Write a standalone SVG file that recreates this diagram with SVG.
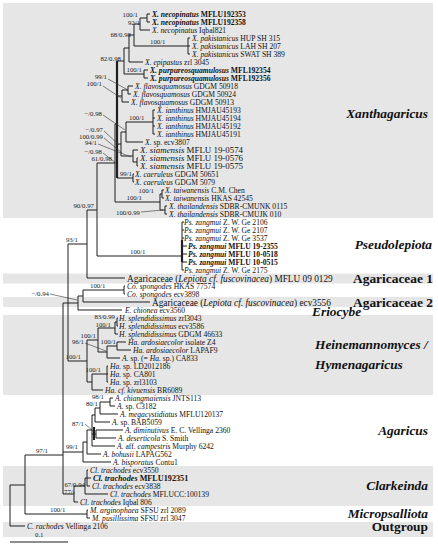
<svg xmlns="http://www.w3.org/2000/svg" width="438" height="550" viewBox="0 0 438 550">
<style>
.band{fill:#e6e6e6}
.l{fill:none;stroke:#1f1f1f;stroke-width:1}
.th{fill:none;stroke:#1f1f1f;stroke-width:2.2}
.ld{fill:none;stroke:#333;stroke-width:0.6}
text{font-family:"Liberation Serif","Times New Roman",serif;fill:#111}
.t{font-size:7.6px}
.tl{font-size:9.3px}
.ts{font-size:8.9px}
.tb{font-size:8.2px;font-weight:bold}
.i{font-style:italic}
.b{font-weight:bold}
.s{font-size:6.8px;fill:#222}
.e{text-anchor:end}
.g{font-size:13.4px;font-weight:bold;font-style:italic}
.gr{font-size:13.4px;font-weight:bold}
</style>
<rect width="438" height="550" fill="#fff"/>
<g id="bands">
<rect class="band" x="3" y="3" width="430" height="215"/>
<rect class="band" x="3" y="273.5" width="430" height="10"/>
<rect class="band" x="3" y="297" width="430" height="10"/>
<rect class="band" x="3" y="315" width="430" height="80"/>
<rect class="band" x="3" y="466" width="430" height="40"/>
<rect class="band" x="3" y="522" width="430" height="15"/>
</g>
<g id="branches">
<path class="l" d="M147 14V22M147 14H150M147 22H150M140 18H147M140 18V30M140 30H150M134 24H140M134 24V46M134 46H188M188 38V54M188 38H190M188 46H190M188 54H190M129 35H134M129 35V62M129 62H143M124 48H129M144 70V78M144 70H148M144 78H148M124 74H144M124 48V74M117 61H124M128 86V94M128 86H133M128 94H131M122 90H128M122 90V102M122 102H129M117 96H122M153 110V134M153 110H155M153 118H155M153 126H155M153 134H155M126 122H153M126 122V142M126 142H143M121 132H126M137 158V166M137 158H138M137 166H138M133 162H137M133 150V162M133 150H138M121 156H133M121 132V156M117 144H121M133 174V182M133 174H134M133 182H134M117 178H133M115 124V202M115 124H117M115 202H160M160 194V210M162 190V198M162 190H164M162 198H164M160 194H162M165 206V214M165 206H167M165 214H167M160 210H165M97 163H115"/>
<path class="th" d="M117 61V178"/>
<path class="l" d="M97 163V256M97 256H182M182 222V270M182 222H184M182 230H184M182 238H184M182 246H187M182 254H187M182 262H187M182 270H184M87 210H97M87 210V278M87 278H125M68 244H87M68 244V361M68 303H78M78 296V310M78 310H122M78 296H83M83 290V302M83 302H150M83 290H124M124 286V294M124 286H125M124 294H125M63 303H68M63 303V494"/>
<path class="th" d="M182 240V262"/>
<path class="l" d="M117 318V326M117 318H118M117 326H118M115 322H117M115 322V334M115 334H118M98 328H115M117 342V350M117 342H126M117 350H131M107 346H117M107 358H120M107 346V358M98 352H107M98 328V352M87 340H98M107 366V382M107 366H108M107 374H108M107 382H108M92 374H107M92 390H103M92 374V390M87 382H92M87 340V382M68 361H87"/>
<path class="l" d="M110 398V406M110 398H113M110 406H115M100 402H110M100 402V414M100 414H118M95 408H100M95 408V422M95 422H110M92 415H95M96 430V438M96 430H123M96 438H116M92 434H96M92 415V446M92 446H115M87 430H92M87 430V454M87 454H101M83 442H87M83 442V462M83 462H111M63 452H83"/>
<path class="th" d="M94 427V440"/>
<path class="l" d="M87 470V486M87 470H88M87 478H91M87 486H90M85 478H87M85 478V494M85 494H108M74 486H85M74 486V502M74 502H78M63 494H74M25 455H63M25 455V514M25 514H87M87 510V518M87 510H88M87 518H90M10 485H25M10 485V526M10 526H25"/>
<path class="ld" d="M108 79L128 90M103 86L121 98M103 115L125 130M104 131L119 145M104 138L122 153M98 144L131 157M103 153L116 163M141 212L163 210M50 294L77 300M85 343L106 351M85 424L93 431"/>
<path class="l" d="M10 542H68"/>
</g>
<g id="supports">
<text class="s e" x="138" y="17">100/1</text>
<text class="s e" x="140" y="25">92/1</text>
<text class="s e" x="131" y="37">68/0.98</text>
<text class="s" x="150" y="44">100/1</text>
<text class="s e" x="121" y="61">82/0.98</text>
<text class="s e" x="142" y="72">100/1</text>
<text class="s e" x="107" y="79">99/1</text>
<text class="s e" x="102" y="86">100/1</text>
<text class="s e" x="102" y="116">−/0.98</text>
<text class="s" x="129" y="120">100/1</text>
<text class="s e" x="103" y="132">−/0.97</text>
<text class="s e" x="103" y="139">100/0.99</text>
<text class="s e" x="97" y="145">94/1</text>
<text class="s e" x="102" y="154">−/0.98</text>
<text class="s e" x="112" y="161">61/0.98</text>
<text class="s e" x="132" y="176">99/1</text>
<text class="s e" x="154" y="193">100/1</text>
<text class="s e" x="142" y="200">100/1</text>
<text class="s e" x="140" y="215">100/0.99</text>
<text class="s e" x="94" y="208">90/0.97</text>
<text class="s e" x="78" y="242">93/1</text>
<text class="s" x="130" y="254">100/1</text>
<text class="s e" x="49" y="296">−/0.94</text>
<text class="s" x="90" y="288">100/1</text>
<text class="s e" x="115" y="319">83/0.99</text>
<text class="s e" x="111" y="327">100/1</text>
<text class="s e" x="96" y="338">100/1</text>
<text class="s e" x="84" y="344">96/1</text>
<text class="s e" x="116" y="344">100/1</text>
<text class="s e" x="81" y="359">100/1</text>
<text class="s e" x="101" y="372">100/1</text>
<text class="s e" x="104" y="399">98/1</text>
<text class="s e" x="98" y="406">80/1</text>
<text class="s e" x="84" y="426">87/1</text>
<text class="s e" x="78" y="449">99/1</text>
<text class="s e" x="48" y="453">97/1</text>
<text class="s e" x="85" y="487">67/0.94</text>
<text class="s e" x="75" y="494">77/-</text>
<text class="s" x="50" y="512">100/1</text>
<text class="s" x="35" y="537">0.1</text>
</g>
<g id="xanthagaricus-leaves">
<text class="t b" x="152" y="17"><tspan class="i">X. necopinatus</tspan> MFLU192353</text>
<text class="t b" x="152" y="25"><tspan class="i">X. necopinatus</tspan> MFLU192358</text>
<text class="t" x="152" y="33"><tspan class="i">X. necopinatus</tspan> Iqbal821</text>
<text class="t" x="192" y="41"><tspan class="i">X. pakistanicus</tspan> HUP SH 315</text>
<text class="t" x="192" y="49"><tspan class="i">X. pakistanicus</tspan> LAH SH 207</text>
<text class="t" x="192" y="57"><tspan class="i">X. pakistanicus</tspan> SWAT SH 389</text>
<text class="t" x="145" y="65"><tspan class="i">X. epipastus</tspan> zrl 3045</text>
<text class="t b" x="150" y="73"><tspan class="i">X. purpureosquamulosus</tspan> MFL192354</text>
<text class="t b" x="150" y="81"><tspan class="i">X. purpureosquamulosus</tspan> MFL192356</text>
<text class="t" x="135" y="89"><tspan class="i">X. flavosquamosus</tspan> GDGM 50918</text>
<text class="t" x="133" y="97"><tspan class="i">X. flavosquamosus</tspan> GDGM 50924</text>
<text class="t" x="131" y="105"><tspan class="i">X. flavosquamosus</tspan> GDGM 50913</text>
<text class="t" x="157" y="113"><tspan class="i">X. ianthinus</tspan> HMJAU45193</text>
<text class="t" x="157" y="121"><tspan class="i">X. ianthinus</tspan> HMJAU45194</text>
<text class="t" x="157" y="129"><tspan class="i">X. ianthinus</tspan> HMJAU45192</text>
<text class="t" x="157" y="137"><tspan class="i">X. ianthinus</tspan> HMJAU45191</text>
<text class="t" x="145" y="144.5"><tspan class="i">X.</tspan> sp. ecv3807</text>
<text class="ts" x="140" y="153.2"><tspan class="i">X. siamensis</tspan> MFLU 19-0574</text>
<text class="ts" x="140" y="161.2"><tspan class="i">X. siamensis</tspan> MFLU 19-0576</text>
<text class="ts" x="140" y="169.2"><tspan class="i">X. siamensis</tspan> MFLU 19-0575</text>
<text class="t" x="135" y="177"><tspan class="i">X. caeruleus</tspan> GDGM 50651</text>
<text class="t" x="135" y="185"><tspan class="i">X. caeruleus</tspan> GDGM 5079</text>
<text class="t" x="165" y="193"><tspan class="i">X. taiwanensis</tspan> C.M. Chen</text>
<text class="t" x="165" y="201"><tspan class="i">X. taiwanensis</tspan> HKAS 42545</text>
<text class="t" x="169" y="209"><tspan class="i">X. thailandensis</tspan> SDBR-CMUNK 0115</text>
<text class="t" x="169" y="217"><tspan class="i">X. thailandensis</tspan> SDBR-CMUJK 010</text>
</g>
<g id="pseudolepiota-leaves">
<text class="t" x="184" y="225"><tspan class="i">Ps. zangmui</tspan> Z. W. Ge 2106</text>
<text class="t" x="184" y="233"><tspan class="i">Ps. zangmui</tspan> Z. W. Ge 2107</text>
<text class="t" x="184" y="241"><tspan class="i">Ps. zangmui</tspan> Z. W. Ge 3537</text>
<text class="t b" x="188" y="249"><tspan class="i">Ps. zangmui</tspan> MFLU 19-2355</text>
<text class="t b" x="188" y="257"><tspan class="i">Ps. zangmui</tspan> MFLU 10-0518</text>
<text class="t b" x="188" y="265"><tspan class="i">Ps. zangmui</tspan> MFLU 10-0515</text>
<text class="t" x="184" y="272.5"><tspan class="i">Ps. zangmui</tspan> Z. W. Ge 2175</text>
</g>
<g id="agaricaceae1-leaf"><text class="tl" x="127" y="281.8">Agaricaceae (<tspan class="i">Lepiota cf. fuscovinacea</tspan>) MFLU 09 0129</text></g>
<g id="cospongodes-leaves">
<text class="t" x="127" y="289"><tspan class="i">Co. spongodes</tspan> HKAS 77574</text>
<text class="t" x="127" y="296.5"><tspan class="i">Co. spongodes</tspan> ecv3898</text>
</g>
<g id="agaricaceae2-leaf"><text class="tl" x="152" y="305.5">Agaricaceae (<tspan class="i">Lepiota cf. fuscovinacea</tspan>) ecv3556</text></g>
<g id="eriocybe-leaf"><text class="t" x="125" y="313"><tspan class="i">E. chionea</tspan> ecv3560</text></g>
<g id="heinemannomyces-leaves">
<text class="t" x="119" y="321"><tspan class="i">H. splendidissimus</tspan> zrl3043</text>
<text class="t" x="119" y="329"><tspan class="i">H. splendidissimus</tspan> ecv3586</text>
<text class="t" x="119" y="337"><tspan class="i">H. splendidissimus</tspan> GDGM 46633</text>
<text class="t" x="128" y="345"><tspan class="i">Ha. ardosiaecolor</tspan> isolate Z4</text>
<text class="t" x="133" y="353"><tspan class="i">Ha. ardosiaecolor</tspan> LAPAF9</text>
<text class="t" x="122" y="361"><tspan class="i">A.</tspan> sp. (= <tspan class="i">Ha.</tspan> sp.) CA833</text>
<text class="t" x="110" y="369"><tspan class="i">Ha.</tspan> sp. LD2012186</text>
<text class="t" x="110" y="377"><tspan class="i">Ha.</tspan> sp. CA801</text>
<text class="t" x="110" y="385"><tspan class="i">Ha.</tspan> sp. zrl3103</text>
<text class="t" x="105" y="393"><tspan class="i">Ha. cf. kivuensis</tspan> BR6089</text>
</g>
<g id="agaricus-leaves">
<text class="t" x="115" y="401"><tspan class="i">A. chiangmaiensis</tspan> JNTS113</text>
<text class="t" x="117" y="409"><tspan class="i">A.</tspan> sp. C3182</text>
<text class="t" x="120" y="417"><tspan class="i">A. megacystidiatus</tspan> MFLU120137</text>
<text class="t" x="112" y="425"><tspan class="i">A.</tspan> sp. BAB5059</text>
<text class="t" x="125" y="433"><tspan class="i">A. diminutivus</tspan> E. C. Vellinga 2360</text>
<text class="t" x="118" y="441"><tspan class="i">A. deserticola</tspan> S. Smith</text>
<text class="t" x="117" y="449"><tspan class="i">A.</tspan> aff. <tspan class="i">campestris</tspan> Murphy 6242</text>
<text class="t" x="103" y="457"><tspan class="i">A. bohusii</tspan> LAPAG562</text>
<text class="t" x="113" y="465"><tspan class="i">A. bisporatus</tspan> Contu1</text>
</g>
<g id="clarkeinda-leaves">
<text class="t" x="90" y="473"><tspan class="i">Cl. trachodes</tspan> ecv3550</text>
<text class="tb" x="93" y="481"><tspan class="i">Cl. trachodes</tspan> MFLU192351</text>
<text class="t" x="92" y="489"><tspan class="i">Cl. trachodes</tspan> ecv3838</text>
<text class="t" x="110" y="497"><tspan class="i">Cl. trachodes</tspan> MFLUCC:100139</text>
<text class="t" x="80" y="505"><tspan class="i">Cl. trachodes</tspan> Iqbal 806</text>
</g>
<g id="micropsalliota-leaves">
<text class="t" x="90" y="513"><tspan class="i">M. arginophaea</tspan> SFSU zrl 2089</text>
<text class="t" x="92" y="521"><tspan class="i">M. pusillissima</tspan> SFSU zrl 3047</text>
</g>
<g id="outgroup-leaf"><text class="t" x="27" y="529"><tspan class="i">C. rachodes</tspan> Vellinga 2106</text></g>
<g id="clade-labels">
<text class="g e" x="428" y="118">Xanthagaricus</text>
<text class="g e" x="432" y="249">Pseudolepiota</text>
<text class="gr e" x="433" y="283">Agaricaceae 1</text>
<text class="gr e" x="433" y="307">Agaricaceae 2</text>
<text class="g" x="312" y="316">Eriocybe</text>
<text class="g" x="315" y="349">Heinemannomyces /</text>
<text class="g" x="315" y="369">Hymenagaricus</text>
<text class="g e" x="428" y="435">Agaricus</text>
<text class="g e" x="428" y="490">Clarkeinda</text>
<text class="g e" x="428" y="518">Micropsalliota</text>
<text class="gr e" x="428" y="531">Outgroup</text>
</g>
</svg>
